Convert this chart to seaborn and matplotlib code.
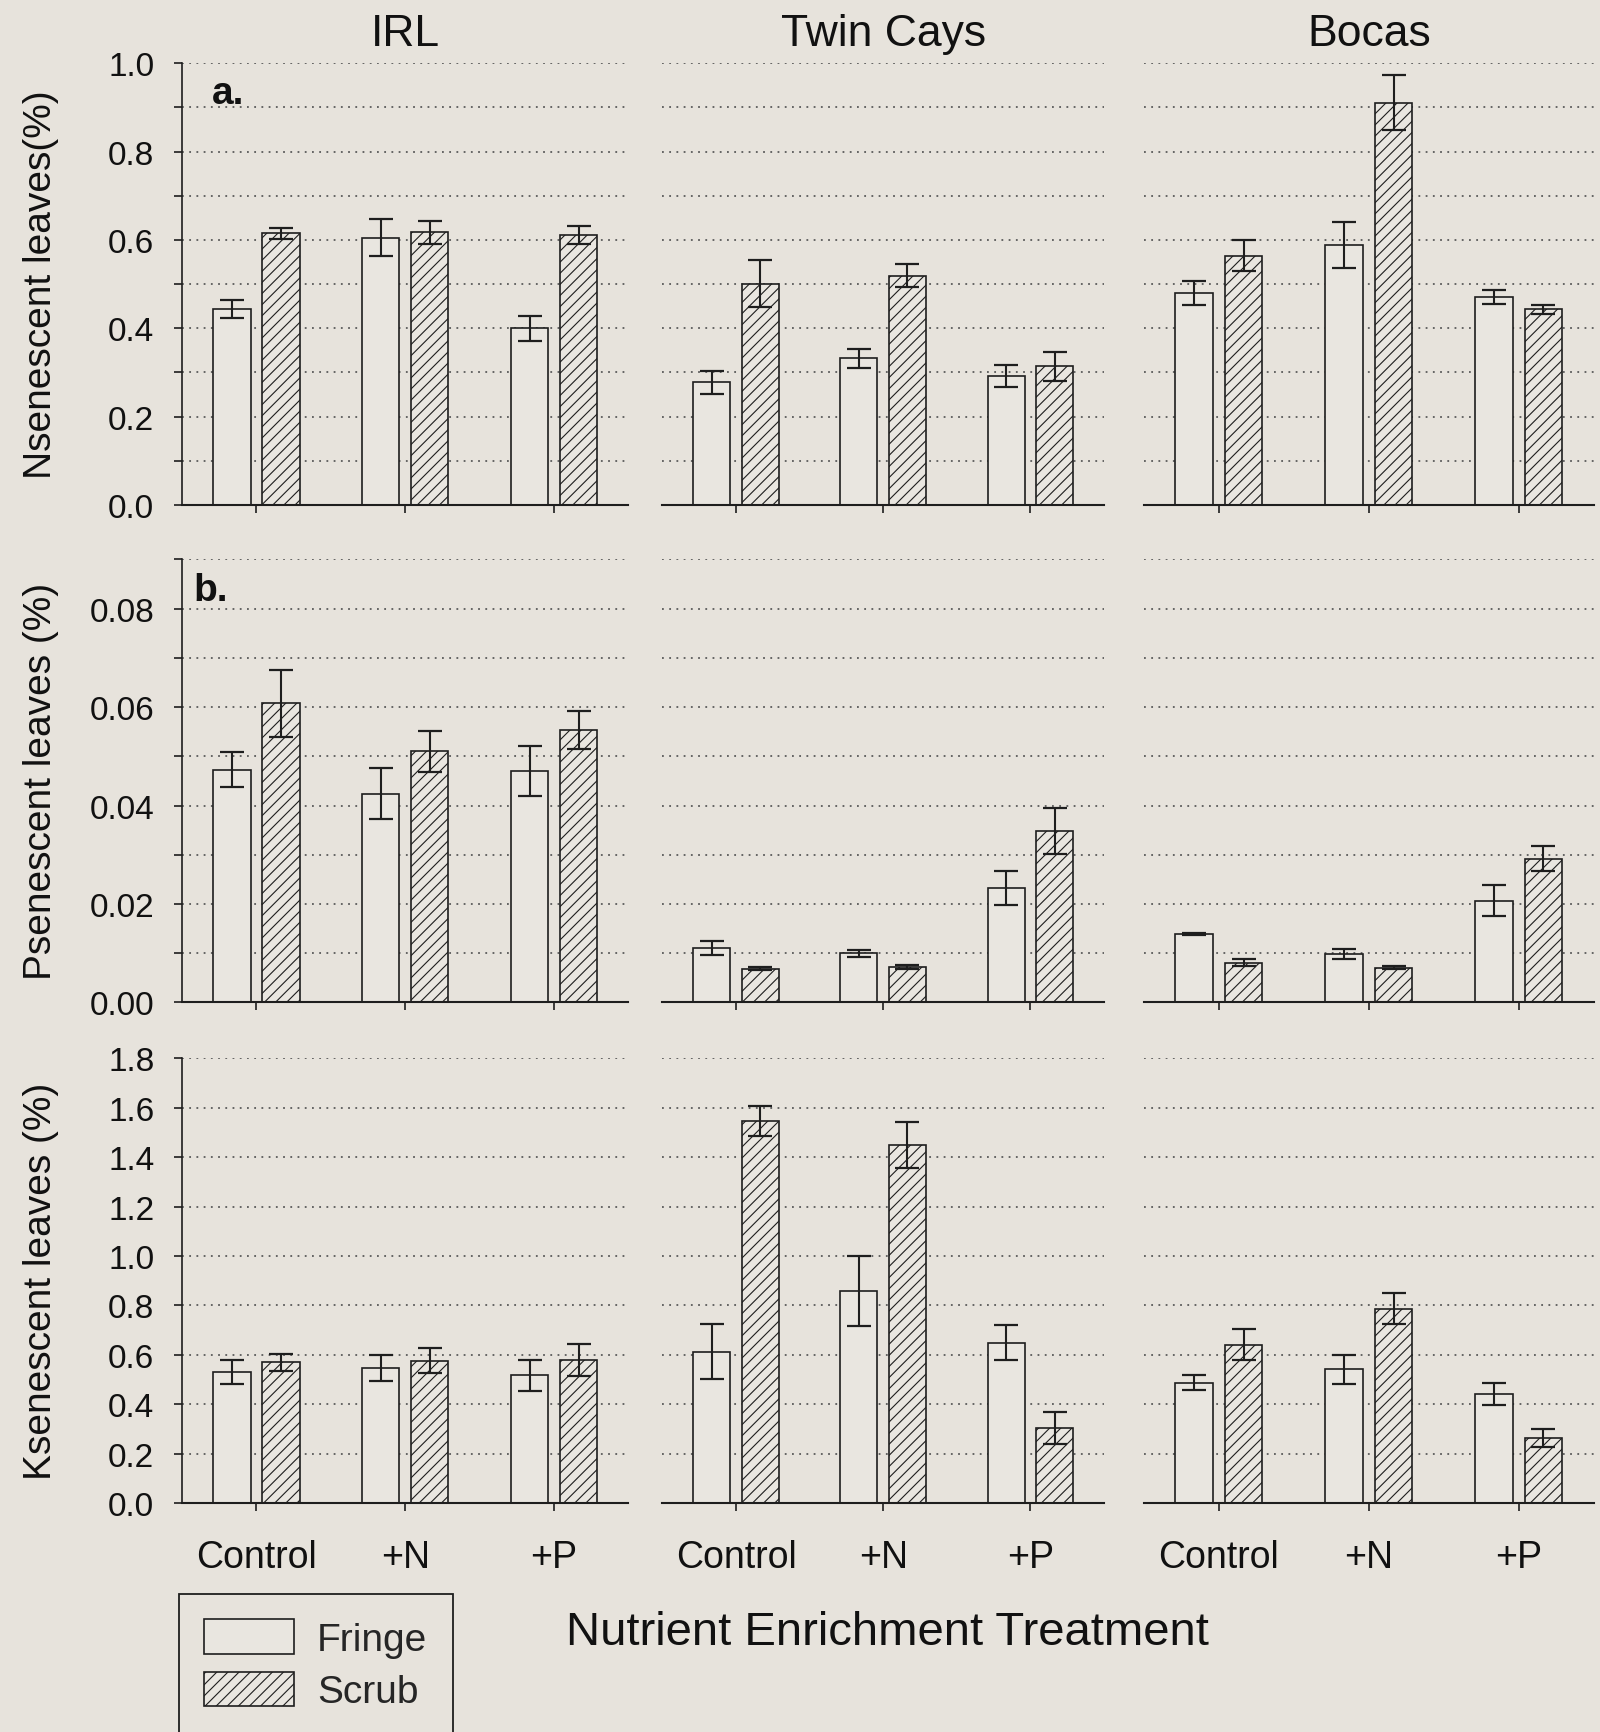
import matplotlib
matplotlib.use('Agg')
import matplotlib.pyplot as plt
import seaborn as sns
import pandas as pd
from matplotlib.patches import Patch
from matplotlib.ticker import MultipleLocator, FormatStrFormatter

siti = ['IRL', 'Twin Cays', 'Bocas']
trattamenti = ['Control', '+N', '+P']
habitat = ['Fringe', 'Scrub']

# valori medi per sito (righe) e trattamento (colonne: Control, +N, +P)
n_fringe = [[0.444, 0.605, 0.400], [0.278, 0.332, 0.292], [0.480, 0.588, 0.471]]
n_scrub = [[0.615, 0.617, 0.611], [0.501, 0.519, 0.314], [0.564, 0.910, 0.443]]
n_fringe_err = [[0.020, 0.042, 0.028], [0.026, 0.022, 0.025], [0.027, 0.052, 0.015]]
n_scrub_err = [[0.013, 0.026, 0.020], [0.053, 0.026, 0.033], [0.035, 0.062, 0.010]]

p_fringe = [[0.0473, 0.0424, 0.0470], [0.0111, 0.0100, 0.0232], [0.0139, 0.0098, 0.0207]]
p_scrub = [[0.0608, 0.0510, 0.0554], [0.0068, 0.0072, 0.0349], [0.0081, 0.0070, 0.0292]]
p_fringe_err = [[0.0035, 0.0052, 0.0051], [0.0014, 0.0007, 0.0035], [0.0002, 0.0010, 0.0032]]
p_scrub_err = [[0.0068, 0.0042, 0.0039], [0.0003, 0.0004, 0.0047], [0.0008, 0.0003, 0.0025]]

k_fringe = [[0.531, 0.546, 0.518], [0.613, 0.858, 0.649], [0.487, 0.542, 0.442]]
k_scrub = [[0.570, 0.577, 0.579], [1.545, 1.449, 0.305], [0.642, 0.787, 0.264]]
k_fringe_err = [[0.048, 0.052, 0.062], [0.110, 0.143, 0.070], [0.030, 0.058, 0.044]]
k_scrub_err = [[0.034, 0.050, 0.064], [0.060, 0.095, 0.065], [0.063, 0.064, 0.036]]

etichette_y = ['Nsenescent leaves(%)',
               'Psenescent leaves (%)',
               'Ksenescent leaves (%)']
lettere = ['a.', 'b.', '']

sfondo = '#e7e3dc'
riempimento = '#e9e6e0'
bordo = '#1e1e1e'

sns.set_style('ticks')
plt.rcParams['font.family'] = ['Liberation Sans', 'DejaVu Sans']
plt.rcParams['hatch.linewidth'] = 0.8
plt.rcParams['hatch.color'] = '#333333'

fig = plt.figure(figsize=(16, 17.33), dpi=100, facecolor=sfondo)

sinistre = [0.1138, 0.414, 0.715]
larghezze = [0.279, 0.276, 0.281]
basi = [0.708, 0.421, 0.132]
altezze = [0.255, 0.2556, 0.2568]

righe = [
    (n_fringe, n_scrub, n_fringe_err, n_scrub_err, 1.0, 0.2, 0.1, '%.1f'),
    (p_fringe, p_scrub, p_fringe_err, p_scrub_err, 0.09, 0.02, 0.01, '%.2f'),
    (k_fringe, k_scrub, k_fringe_err, k_scrub_err, 1.8, 0.2, 0.2, '%.1f'),
]

for r, (fr, sc, fr_e, sc_e, ymax, passo, passo_min, formato) in enumerate(righe):
    for c, sito in enumerate(siti):
        ax = fig.add_axes([sinistre[c], basi[r], larghezze[c], altezze[r]])
        ax.set_facecolor(sfondo)
        df = pd.DataFrame({
            'trattamento': trattamenti * 2,
            'habitat': ['Fringe'] * 3 + ['Scrub'] * 3,
            'valore': fr[c] + sc[c],
        })
        sns.barplot(data=df, x='trattamento', y='valore', hue='habitat',
                    order=trattamenti, hue_order=habitat,
                    palette={'Fringe': riempimento, 'Scrub': riempimento},
                    width=0.66, gap=0.24, edgecolor=bordo, linewidth=1.2,
                    errorbar=None, legend=False, saturation=1, ax=ax)
        errori = [fr_e[c], sc_e[c]]
        contenitori = list(ax.containers)
        for k, cont in enumerate(contenitori):
            for barra, err in zip(cont, errori[k]):
                if k == 1:
                    barra.set_hatch('///')
                x = barra.get_x() + barra.get_width() / 2
                ax.errorbar(x, barra.get_height(), yerr=err, fmt='none',
                            ecolor=bordo, elinewidth=1.5, capsize=8.5,
                            capthick=1.6, zorder=4)

        ax.set_xlim(-0.5, 2.5)
        ax.set_ylim(0, ymax)
        ax.yaxis.set_major_locator(MultipleLocator(passo))
        ax.yaxis.set_minor_locator(MultipleLocator(passo_min))
        ax.yaxis.set_major_formatter(FormatStrFormatter(formato))
        ax.set_axisbelow(True)
        ax.yaxis.grid(True, which='both', linestyle=(0, (1, 3)),
                      color='#5a5a5a', linewidth=1.3)
        ax.xaxis.grid(False)
        ax.set_xlabel('')
        ax.set_ylabel('')
        ax.spines['top'].set_visible(False)
        ax.spines['right'].set_visible(False)
        ax.spines['bottom'].set_color(bordo)
        ax.spines['bottom'].set_linewidth(1.5)
        ax.spines['left'].set_color(bordo)
        ax.spines['left'].set_linewidth(1.2)
        ax.tick_params(axis='both', which='both', direction='out', length=6,
                       width=1.2, color=bordo, labelsize=24, labelcolor='#111111')
        ax.tick_params(axis='y', pad=14)
        ax.tick_params(axis='x', pad=20, labelsize=27)

        if r < 2:
            ax.tick_params(axis='x', labelbottom=False)
        if c > 0:
            ax.spines['left'].set_visible(False)
            ax.tick_params(axis='y', which='both', left=False, labelleft=False)
        else:
            ax.set_ylabel(etichette_y[r], fontsize=28, color='#111111')
            ax.yaxis.set_label_coords(-0.275, 0.5)
            if lettere[r]:
                ax.text(0.067 if r == 0 else 0.025, 0.932, lettere[r],
                        transform=ax.transAxes, fontsize=28, fontweight='bold',
                        va='center', ha='left', color='#111111')
        if r == 0:
            ax.set_title(sito, fontsize=32, pad=13, color='#111111')

fig.text(887 / 1600, 1 - 1633 / 1733, 'Nutrient Enrichment Treatment',
         ha='center', va='center', fontsize=34, color='#111111')

maniglie = [Patch(facecolor=riempimento, edgecolor=bordo, linewidth=1.2, label='Fringe'),
            Patch(facecolor=riempimento, edgecolor=bordo, linewidth=1.2, hatch='///', label='Scrub')]
leg = fig.legend(handles=maniglie, loc='upper left',
                 bbox_to_anchor=(179 / 1600, 1 - 1595 / 1733),
                 fontsize=28, frameon=True, fancybox=False, framealpha=1,
                 facecolor=sfondo, edgecolor=bordo, handlelength=2.3,
                 handleheight=1.0, handletextpad=0.6, borderpad=0.65,
                 labelspacing=0.35, borderaxespad=0)
leg.get_frame().set_linewidth(1.3)

fig.savefig('out.png', dpi=100, facecolor=sfondo)
